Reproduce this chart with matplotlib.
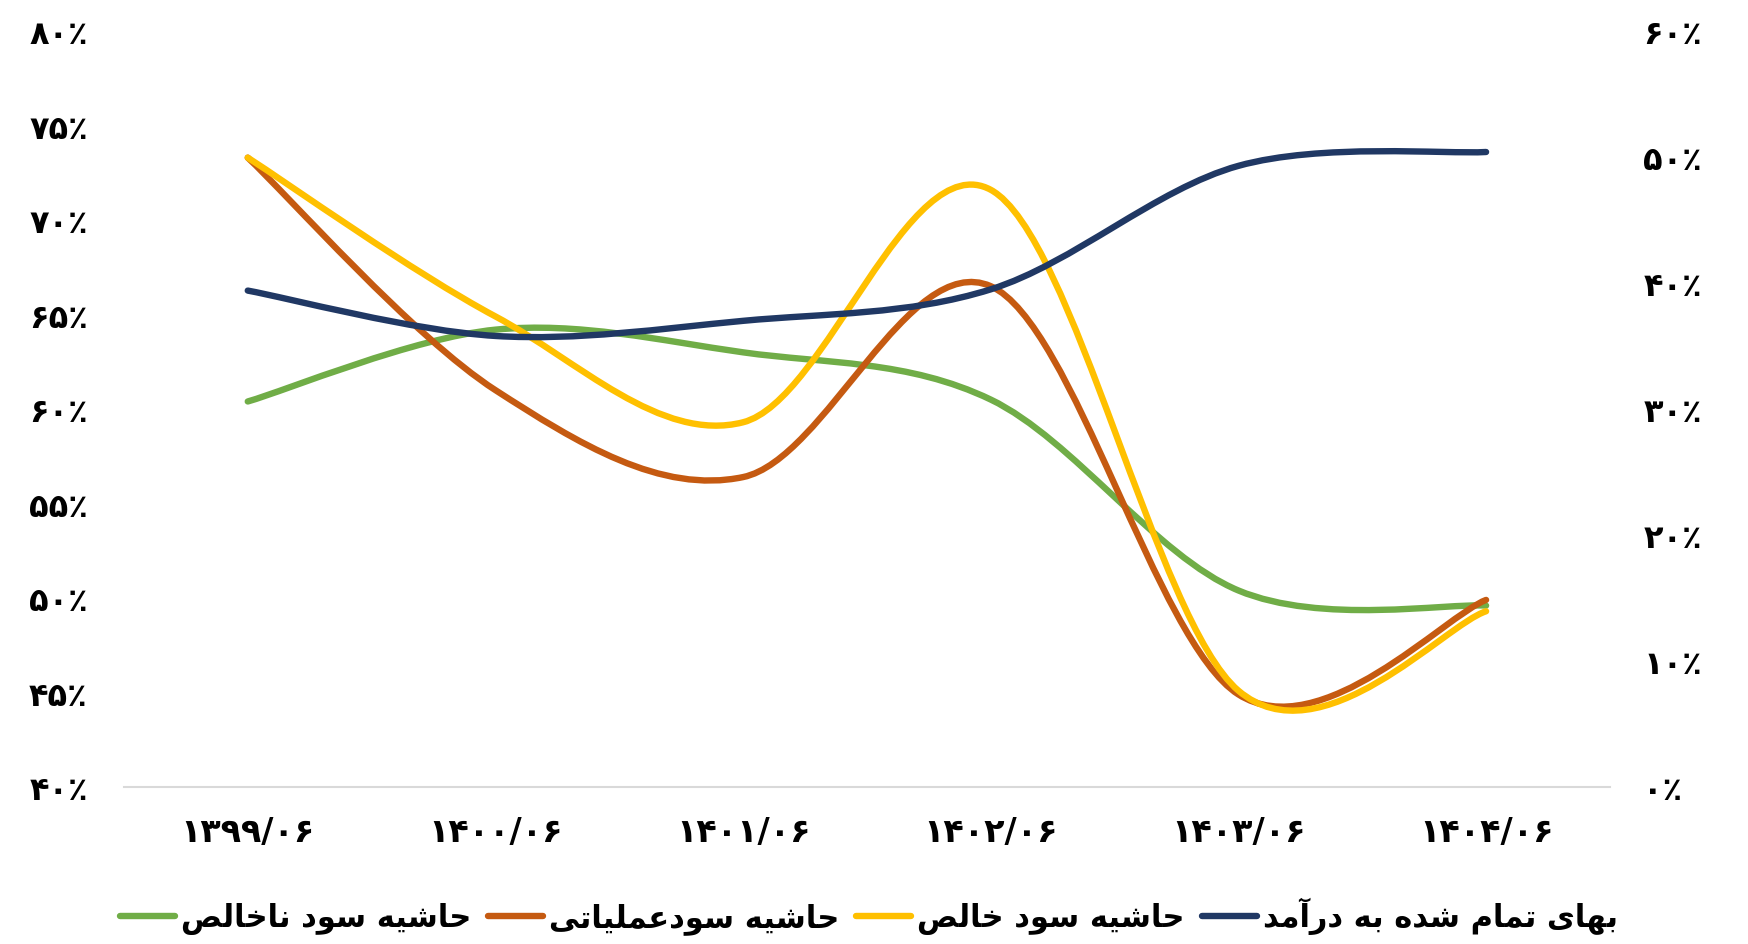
import matplotlib
matplotlib.use('Agg')
import matplotlib.pyplot as plt
from matplotlib.path import Path
from matplotlib.patches import PathPatch
from matplotlib.lines import Line2D
from matplotlib.ticker import FixedLocator, FuncFormatter

# data (percent)
periods = ['۱۳۹۹/۰۶', '۱۴۰۰/۰۶', '۱۴۰۱/۰۶', '۱۴۰۲/۰۶', '۱۴۰۳/۰۶', '۱۴۰۴/۰۶']
gross_margin = [60.4, 64.2, 63.0, 60.5, 50.4, 49.6]
operating_margin = [73.3, 61.0, 56.4, 66.5, 44.9, 49.9]
net_margin = [73.3, 64.9, 59.3, 71.6, 45.1, 49.3]
cost_to_revenue = [39.4, 35.8, 37.0, 39.5, 49.3, 50.4]

names = ['حاشیه سود ناخالص', 'حاشیه سودعملیاتی', 'حاشیه سود خالص', 'بهای تمام شده به درآمد']
colors = ['#70AD47', '#C55A11', '#FFC000', '#203864']

left_ticks = [40, 45, 50, 55, 60, 65, 70, 75, 80]
right_ticks = [0, 10, 20, 30, 40, 50, 60]

# arabic presentation forms: isolated, final, initial, medial
FORMS = {
    'ا': (0xFE8D, 0xFE8E, None, None),
    'آ': (0xFE81, 0xFE82, None, None),
    'ب': (0xFE8F, 0xFE90, 0xFE91, 0xFE92),
    'ت': (0xFE95, 0xFE96, 0xFE97, 0xFE98),
    'ح': (0xFEA1, 0xFEA2, 0xFEA3, 0xFEA4),
    'خ': (0xFEA5, 0xFEA6, 0xFEA7, 0xFEA8),
    'د': (0xFEA9, 0xFEAA, None, None),
    'ر': (0xFEAD, 0xFEAE, None, None),
    'س': (0xFEB1, 0xFEB2, 0xFEB3, 0xFEB4),
    'ش': (0xFEB5, 0xFEB6, 0xFEB7, 0xFEB8),
    'ص': (0xFEB9, 0xFEBA, 0xFEBB, 0xFEBC),
    'ع': (0xFEC9, 0xFECA, 0xFECB, 0xFECC),
    'ل': (0xFEDD, 0xFEDE, 0xFEDF, 0xFEE0),
    'م': (0xFEE1, 0xFEE2, 0xFEE3, 0xFEE4),
    'ن': (0xFEE5, 0xFEE6, 0xFEE7, 0xFEE8),
    'ه': (0xFEE9, 0xFEEA, 0xFEEB, 0xFEEC),
    'و': (0xFEED, 0xFEEE, None, None),
    'ی': (0xFBFC, 0xFBFD, 0xFBFE, 0xFBFF),
}


# joins persian letters and puts them in visual (left to right) order
def shape(text):
    out = []
    for i, ch in enumerate(text):
        if ch not in FORMS:
            out.append(ch)
            continue
        forms = FORMS[ch]
        prev = text[i - 1] if i > 0 else ''
        nxt = text[i + 1] if i + 1 < len(text) else ''
        join_prev = prev in FORMS and FORMS[prev][2] is not None
        join_next = forms[2] is not None and nxt in FORMS
        if join_prev and join_next:
            code = forms[3]
        elif join_prev:
            code = forms[1]
        elif join_next:
            code = forms[2]
        else:
            code = forms[0]
        out.append(chr(code))
    return ''.join(reversed(out))


def fa_digits(n):
    return str(n).translate(str.maketrans('0123456789', '۰۱۲۳۴۵۶۷۸۹'))


# smooth line like excel (catmull-rom as bezier)
def smooth_path(xs, ys):
    pts = list(zip(xs, ys))
    n = len(pts)
    verts = [pts[0]]
    codes = [Path.MOVETO]
    for i in range(n - 1):
        p0 = pts[i - 1] if i > 0 else pts[i]
        p1 = pts[i]
        p2 = pts[i + 1]
        p3 = pts[i + 2] if i + 2 < n else pts[i + 1]
        c1 = (p1[0] + (p2[0] - p0[0]) / 6, p1[1] + (p2[1] - p0[1]) / 6)
        c2 = (p2[0] - (p3[0] - p1[0]) / 6, p2[1] - (p3[1] - p1[1]) / 6)
        verts += [c1, c2, p2]
        codes += [Path.CURVE4] * 3
    return Path(verts, codes)


plt.rcParams['font.family'] = ['DejaVu Sans']
plt.rcParams['font.weight'] = 'bold'

fig = plt.figure(figsize=(17.48, 9.45), dpi=100)
ax = fig.add_axes([0.0709, 0.1661, 0.921 - 0.0709, 0.9661 - 0.1661])
ax2 = ax.twinx()

x = list(range(len(periods)))
lw = 4.6

for ys, c in zip([gross_margin, operating_margin, net_margin], colors[:3]):
    ax.add_patch(PathPatch(smooth_path(x, ys), fill=False, edgecolor=c, lw=lw,
                           capstyle='round', joinstyle='round'))
ax2.add_patch(PathPatch(smooth_path(x, cost_to_revenue), fill=False, edgecolor=colors[3],
                        lw=lw, capstyle='round', joinstyle='round'))

ax.set_xlim(-0.5, len(periods) - 0.5)
ax.set_ylim(40, 80)
ax2.set_ylim(0, 60)

ax.xaxis.set_major_locator(FixedLocator(x))
ax.set_xticklabels(periods)
ax.yaxis.set_major_locator(FixedLocator(left_ticks))
ax.yaxis.set_major_formatter(FuncFormatter(lambda v, p: fa_digits(int(round(v))) + '٪'))
ax2.yaxis.set_major_locator(FixedLocator(right_ticks))
ax2.yaxis.set_major_formatter(FuncFormatter(lambda v, p: fa_digits(int(round(v))) + '٪'))

for a in (ax, ax2):
    for s in a.spines.values():
        s.set_visible(False)
    a.set_facecolor('none')
ax.spines['bottom'].set_visible(True)
ax.spines['bottom'].set_color('#D9D9D9')
ax.spines['bottom'].set_linewidth(1.5)

ax.tick_params(axis='x', length=0, pad=20, labelsize=24)
ax.tick_params(axis='y', length=0, pad=26, labelsize=23)
ax2.tick_params(axis='y', length=0, pad=24, labelsize=23)

handles = [Line2D([], [], color=c, lw=lw, solid_capstyle='round') for c in colors]
fig.legend(handles, [shape(n) for n in names], loc='center', bbox_to_anchor=(0.497, 0.03),
           ncol=4, frameon=False, fontsize=22, handlelength=1.8, handletextpad=0.2,
           columnspacing=0.55)

fig.savefig('out.png', dpi=100)
